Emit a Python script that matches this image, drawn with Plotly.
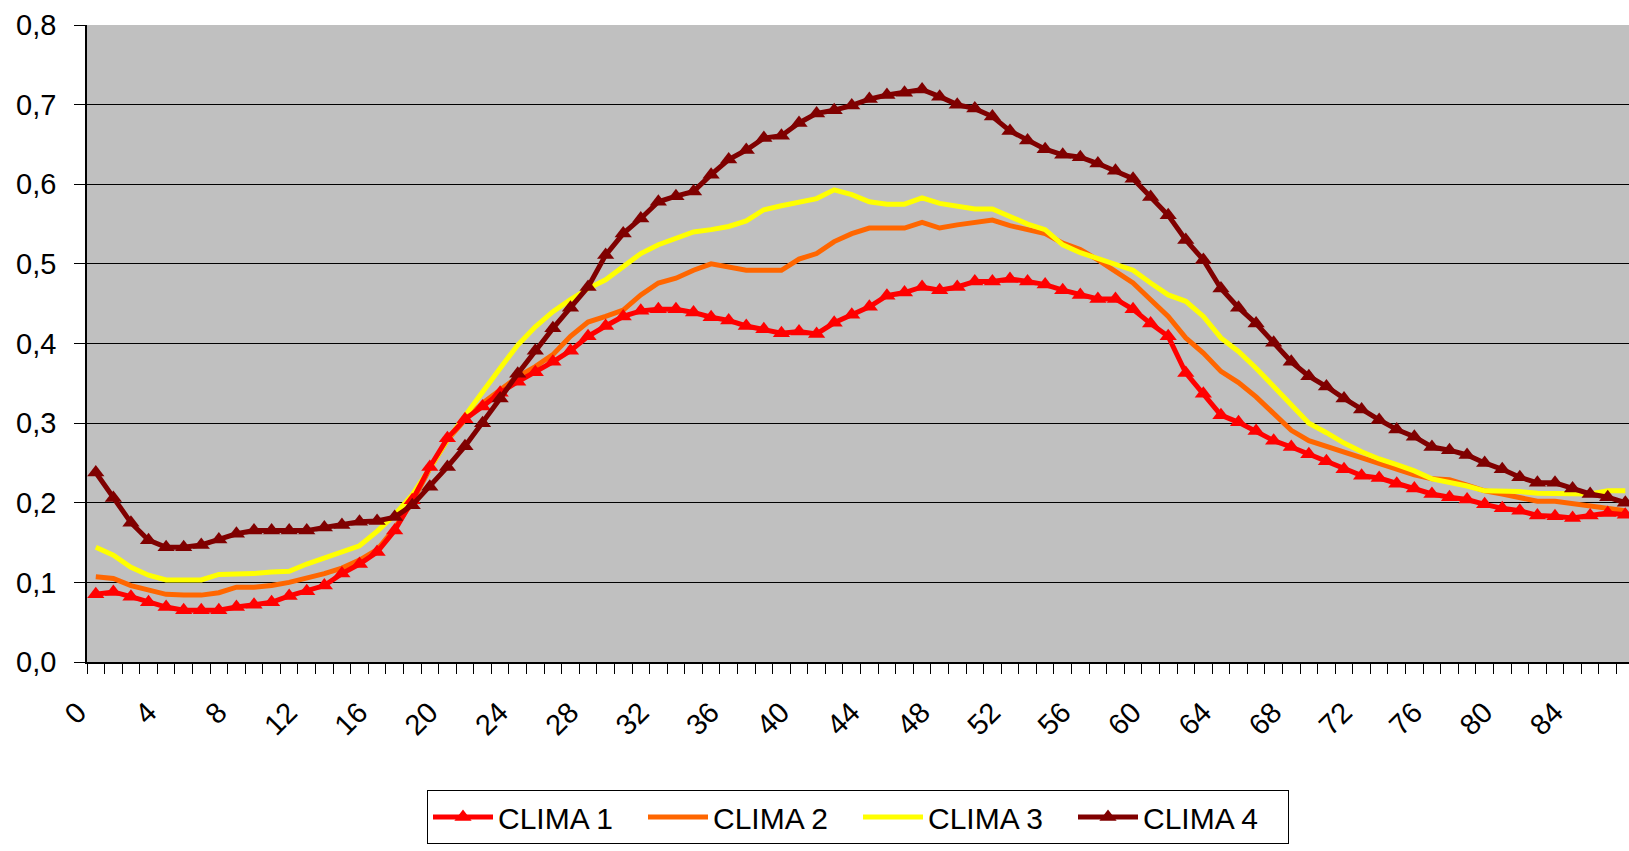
import plotly.graph_objects as go

categories = list(range(88))
tick_values = list(range(0, 88, 4))
tick_labels = [str(v) for v in tick_values]

clima1 = [0.085, 0.088, 0.082, 0.075, 0.069, 0.065, 0.065, 0.065, 0.069, 0.072, 0.075, 0.083, 0.089, 0.096, 0.111, 0.123,
          0.138, 0.165, 0.203, 0.245, 0.281, 0.305, 0.321, 0.338, 0.352, 0.364, 0.377, 0.391, 0.409, 0.422, 0.434, 0.441,
          0.443, 0.443, 0.439, 0.433, 0.429, 0.422, 0.418, 0.413, 0.415, 0.412, 0.426, 0.436, 0.446, 0.460, 0.464, 0.471,
          0.467, 0.471, 0.478, 0.478, 0.481, 0.478, 0.474, 0.467, 0.461, 0.456, 0.456, 0.443, 0.425, 0.409, 0.363, 0.337,
          0.310, 0.301, 0.290, 0.278, 0.270, 0.261, 0.252, 0.242, 0.234, 0.231, 0.224, 0.218, 0.211, 0.207, 0.204, 0.198,
          0.193, 0.190, 0.184, 0.183, 0.181, 0.184, 0.187, 0.185]

clima2 = [0.107, 0.105, 0.096, 0.090, 0.085, 0.084, 0.084, 0.087, 0.094, 0.094, 0.096, 0.100, 0.105, 0.111, 0.118, 0.128,
          0.141, 0.168, 0.201, 0.243, 0.279, 0.304, 0.325, 0.342, 0.358, 0.371, 0.386, 0.409, 0.427, 0.434, 0.442, 0.461,
          0.476, 0.482, 0.492, 0.500, 0.496, 0.492, 0.492, 0.492, 0.506, 0.513, 0.528, 0.538, 0.545, 0.545, 0.545, 0.552,
          0.545, 0.549, 0.552, 0.555, 0.548, 0.543, 0.538, 0.526, 0.518, 0.505, 0.490, 0.476, 0.455, 0.434, 0.407, 0.388,
          0.365, 0.351, 0.333, 0.313, 0.291, 0.278, 0.271, 0.264, 0.256, 0.249, 0.242, 0.235, 0.230, 0.229, 0.222, 0.215,
          0.211, 0.206, 0.202, 0.202, 0.199, 0.196, 0.194, 0.190]

clima3 = [0.144, 0.134, 0.119, 0.109, 0.103, 0.103, 0.103, 0.110, 0.110, 0.111, 0.113, 0.114, 0.123, 0.131, 0.138, 0.146,
          0.164, 0.185, 0.210, 0.243, 0.279, 0.308, 0.339, 0.369, 0.398, 0.421, 0.440, 0.455, 0.469, 0.480, 0.497, 0.513,
          0.524, 0.532, 0.540, 0.543, 0.547, 0.554, 0.568, 0.573, 0.578, 0.582, 0.593, 0.587, 0.578, 0.575, 0.575, 0.583,
          0.576, 0.572, 0.569, 0.569, 0.560, 0.550, 0.543, 0.524, 0.514, 0.507, 0.500, 0.492, 0.476, 0.461, 0.453, 0.434,
          0.407, 0.390, 0.369, 0.346, 0.321, 0.300, 0.288, 0.275, 0.264, 0.255, 0.248, 0.240, 0.230, 0.226, 0.221, 0.215,
          0.215, 0.214, 0.212, 0.212, 0.212, 0.211, 0.215, 0.215]

clima4 = [0.238, 0.206, 0.175, 0.153, 0.144, 0.144, 0.147, 0.154, 0.161, 0.165, 0.165, 0.165, 0.165, 0.169, 0.172, 0.176,
          0.177, 0.182, 0.197, 0.220, 0.245, 0.271, 0.300, 0.331, 0.362, 0.391, 0.419, 0.445, 0.471, 0.511, 0.538, 0.557,
          0.578, 0.585, 0.591, 0.612, 0.631, 0.643, 0.658, 0.661, 0.677, 0.689, 0.693, 0.699, 0.707, 0.712, 0.715, 0.719,
          0.710, 0.700, 0.695, 0.685, 0.667, 0.655, 0.644, 0.637, 0.634, 0.626, 0.617, 0.607, 0.584, 0.561, 0.530, 0.505,
          0.469, 0.445, 0.425, 0.401, 0.377, 0.359, 0.346, 0.331, 0.317, 0.304, 0.292, 0.283, 0.270, 0.266, 0.260, 0.250,
          0.242, 0.232, 0.225, 0.225, 0.218, 0.211, 0.207, 0.200]

FONT = "Liberation Sans, Arial, sans-serif"
x_range = [-0.5, 87.21]

fig = go.Figure()
fig.add_trace(go.Scatter(x=categories, y=clima2, name="CLIMA 2", mode="lines",
                         line=dict(color="#FF6600", width=5), legendrank=2))
fig.add_trace(go.Scatter(x=categories, y=clima3, name="CLIMA 3", mode="lines",
                         line=dict(color="#FFFF00", width=5), legendrank=3))
fig.add_trace(go.Scatter(x=categories, y=clima1, name="CLIMA 1", mode="lines+markers",
                         line=dict(color="#FF0000", width=5),
                         marker=dict(symbol="triangle-up", size=15, color="#FF0000"), legendrank=1))
fig.add_trace(go.Scatter(x=categories, y=clima4, name="CLIMA 4", mode="lines+markers",
                         line=dict(color="#800000", width=5),
                         marker=dict(symbol="triangle-up", size=15, color="#800000"), legendrank=4))
# invisible trace to carry the category tick-mark axis
fig.add_trace(go.Scatter(x=categories, y=[None] * len(categories), xaxis="x2", showlegend=False,
                         hoverinfo="skip", mode="lines"))

fig.update_layout(
    width=1629, height=851,
    margin=dict(l=87, r=0, t=25, b=189),
    paper_bgcolor="white",
    plot_bgcolor="#C0C0C0",
    separators=",.",
    font=dict(family=FONT, size=29, color="black"),
    showlegend=True,
    legend=dict(orientation="h", x=0.5, xanchor="center", y=-0.201, yanchor="top",
                bgcolor="white", bordercolor="black", borderwidth=1,
                font=dict(family=FONT, size=30, color="black"),
                traceorder="normal", entrywidth=140, itemwidth=60),
    xaxis=dict(range=x_range, tickmode="array", tickvals=tick_values, ticktext=tick_labels,
               tickangle=-45, ticks="", showgrid=False, zeroline=False,
               showline=True, linecolor="black", linewidth=1.5,
               tickfont=dict(family=FONT, size=29, color="black"),
               ticklabelstandoff=20, ticklabelshift=-18),
    xaxis2=dict(range=x_range, overlaying="x", anchor="y", side="bottom",
                tickmode="linear", tick0=-0.5, dtick=1, ticks="outside", ticklen=11,
                tickcolor="black", tickwidth=1, showticklabels=False, showgrid=False,
                zeroline=False, showline=False),
    yaxis=dict(range=[0, 0.8], tickmode="linear", tick0=0, dtick=0.1, tickformat=".1f",
               ticks="outside", ticklen=11, tickcolor="black", tickwidth=1,
               showgrid=True, gridcolor="black", gridwidth=1, zeroline=False,
               showline=True, linecolor="black", linewidth=1.5,
               tickfont=dict(family=FONT, size=29, color="black"),
               ticklabelstandoff=12),
)

fig.write_html("out.html")
